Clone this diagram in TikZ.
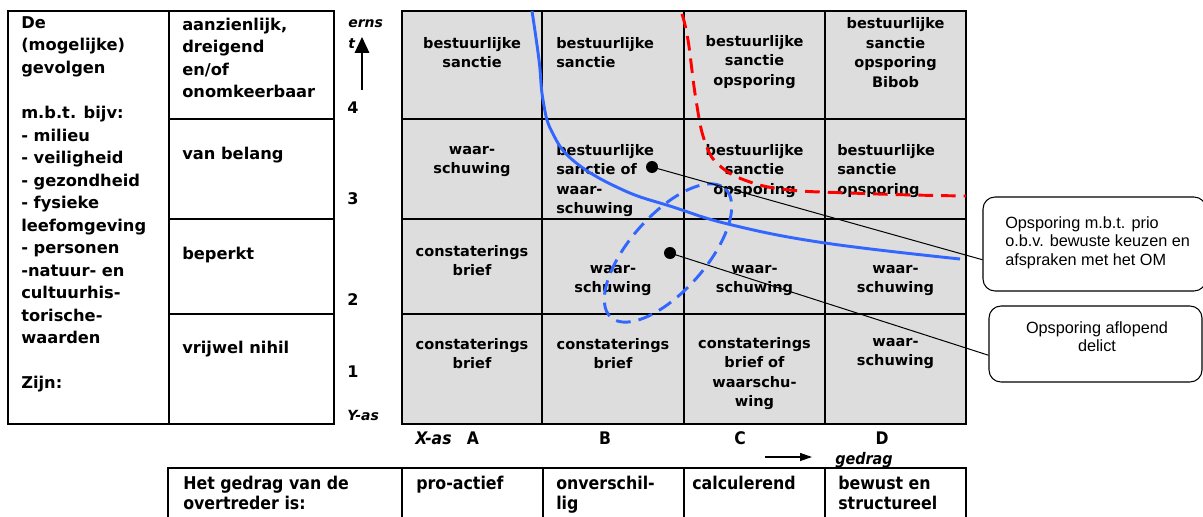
\documentclass[tikz,border=0pt]{standalone}
\usepackage{fontspec}
\setmainfont{DejaVu Sans}
\newfontfamily\narrowfont{DejaVu Sans Condensed}
\newfontfamily\calloutfont{Liberation Sans}
\usetikzlibrary{arrows.meta}
\definecolor{cellgray}{RGB}{221,221,221}
\definecolor{curveblue}{RGB}{51,102,255}

\begin{document}
\begin{tikzpicture}[x=0.75pt,y=-0.75pt,
    cell/.style={font=\fontsize{10.9}{14.6}\selectfont\bfseries,align=center,inner sep=0pt},
    cellleft/.style={cell,align=left,anchor=west},
    side/.style={font=\fontsize{12.2}{16.9}\selectfont\bfseries,align=left,anchor=west,inner sep=0pt},
    axis/.style={font=\fontsize{10.5}{15.75}\selectfont\bfseries\itshape,inner sep=0pt},
    num/.style={font=\fontsize{12}{14}\selectfont\bfseries,anchor=west,inner sep=0pt},
    col/.style={font=\narrowfont\fontsize{13}{15}\selectfont\bfseries,inner sep=0pt},
    bottom/.style={font=\narrowfont\fontsize{13.2}{15}\selectfont\bfseries,align=left,anchor=north west,inner sep=0pt},
    dot/.style={circle,fill=black,inner sep=0pt,minimum size=9pt},
    callout/.style={draw,rounded corners=9pt,line width=0.8pt},
    callouttext/.style={font=\calloutfont\fontsize{12.2}{13.9}\selectfont,inner sep=0pt},
    link/.style={line width=0.75pt}]
    \useasboundingbox (0,0) rectangle (1203,517);

    % Left table: gevolgen
    \draw[line width=1.5pt] (8,11) rectangle (334,424);
    \draw[line width=1.1pt] (169,11) -- (169,424);
    \foreach \y in {119,219,314} {
        \draw[line width=1.1pt] (169,\y) -- (334,\y);
    }
    \node[side] (effects) at (21,204.5) {De\\(mogelijke)\\gevolgen\\[16.9pt]m.b.t. bijv:\\- milieu\\- veiligheid\\- gezondheid\\- fysieke\\leefomgeving\\- personen\\-natuur- en\\cultuurhis-\\torische-\\waarden\\[16.9pt]Zijn:};
    \node[side] (severe) at (182,58) {aanzienlijk,\\dreigend\\en/of\\onomkeerbaar};
    \node[side] (relevant) at (182,155) {van belang};
    \node[side] (limited) at (182,255) {beperkt};
    \node[side] (negligible) at (182,349) {vrijwel nihil};

    % Y-as
    \node[axis,align=left,anchor=north west] (ernst) at (348,19) {erns\\t};
    \coordinate (ytail) at (362,90);
    \coordinate (yhead) at (362,37);
    \draw[-{Triangle[width=11pt,length=12pt]},line width=0.9pt] (ytail) -- (yhead);
    \foreach \n/\y in {4/108,3/199,2/300,1/372} {
        \node[num] (level\n) at (347,\y) {\n};
    }
    \node[axis,anchor=west] (yas) at (347,415) {Y-as};

    % Grid
    \fill[cellgray] (402,11) rectangle (966,424);
    \foreach \x in {542,684,825} {
        \draw[line width=1.1pt] (\x,11) -- (\x,424);
    }
    \foreach \y in {119,219,314} {
        \draw[line width=1.1pt] (402,\y) -- (966,\y);
    }
    \draw[line width=1.5pt] (402,11) rectangle (966,424);

    % Cells, row 4 (top) to row 1
    \node[cell] (a4) at (472,52.5) {bestuurlijke\\sanctie};
    \node[cellleft] (b4) at (556,52.5) {bestuurlijke\\sanctie};
    \node[cell] (c4) at (754.5,62) {bestuurlijke\\sanctie\\opsporing};
    \node[cell] (d4) at (895.5,52.5) {bestuurlijke\\sanctie\\opsporing\\Bibob};
    \node[cell] (a3) at (472,161.5) {waar-\\schuwing};
    \node[cellleft] (b3) at (556,180.5) {bestuurlijke\\sanctie of\\waar-\\schuwing};
    \node[cell] (c3) at (754.5,171) {bestuurlijke\\sanctie\\opsporing};
    \node[cellleft] (d3) at (837,171) {bestuurlijke\\sanctie\\opsporing};
    \node[cell] (a2) at (472,260.5) {constaterings\\brief};
    \node[cell] (b2) at (613,280.5) {waar-\\schuwing};
    \node[cell] (c2) at (754.5,280.5) {waar-\\schuwing};
    \node[cell] (d2) at (895.5,280.5) {waar-\\schuwing};
    \node[cell] (a1) at (472,353.5) {constaterings\\brief};
    \node[cell] (b1) at (613,353.5) {constaterings\\brief};
    \node[cell] (c1) at (754.5,373.5) {constaterings\\brief of\\waarschu-\\wing};
    \node[cell] (d1) at (895.5,353.5) {waar-\\schuwing};

    % Curves
    \draw[curveblue,line width=2.2pt] plot[smooth,tension=0.7] coordinates {(532,11) (539,60) (543,100) (552,132) (575,162) (623,190) (673,207) (732,225) (825,243) (960,259)};
    \draw[red,line width=2.2pt,dash pattern=on 11pt off 6pt] plot[smooth,tension=0.7] coordinates {(682,14) (688,40) (696,100) (705,142) (720,166) (750,182) (790,190) (850,193) (913,195) (966,196)};
    \draw[curveblue,line width=2.2pt,dash pattern=on 11pt off 6pt,rotate around={48.5:(668,253)}] (668,253) ellipse [x radius=86,y radius=38];

    % Callouts
    \node[dot] (prioDot) at (652,167) {};
    \node[dot] (delictDot) at (670,253) {};
    \node[callout,minimum width=167.25pt,minimum height=70.5pt] (prio) at (1094.5,244) {};
    \node[callouttext,align=left,anchor=north west] (priotext) at (1005,216) {Opsporing m.b.t. prio\\o.b.v. bewuste keuzen en\\afspraken met het OM};
    \node[callout,minimum width=159.75pt,minimum height=57pt] (aflopend) at (1095.5,344) {};
    \node[callouttext,align=center] (aflopendtext) at (1097,336.5) {Opsporing aflopend\\delict};
    \draw[link] (prioDot.center) -- (prio.188);
    \draw[link] (delictDot.center) -- (aflopend.186);

    % X-as
    \node[col,anchor=west] (xas) at (415,438) {\itshape X-as};
    \foreach \c/\x in {A/473,B/605,C/740,D/882} {
        \node[col] (col\c) at (\x,438) {\c};
    }
    \coordinate (xtail) at (765,457);
    \coordinate (xhead) at (812,457);
    \draw[-{Triangle[width=6pt,length=9pt]},line width=0.9pt] (xtail) -- (xhead);
    \node[col,anchor=west,font=\narrowfont\fontsize{12}{14}\selectfont\bfseries] (gedrag) at (835,460) {\itshape gedrag};

    % Bottom table: gedrag
    \draw[line width=1.5pt] (168,517) -- (168,468) -- (966,468) -- (966,517);
    \foreach \x in {402,543,684,825} {
        \draw[line width=1.1pt] (\x,468) -- (\x,517);
    }
    \node[bottom] (offender) at (183,476) {Het gedrag van de\\overtreder is:};
    \node[bottom] (proactive) at (416,476) {pro-actief};
    \node[bottom] (indifferent) at (556,476) {onverschil-\\lig};
    \node[bottom] (calculating) at (692,476) {calculerend};
    \node[bottom] (structural) at (838,476) {bewust en\\structureel};
\end{tikzpicture}
\end{document}
